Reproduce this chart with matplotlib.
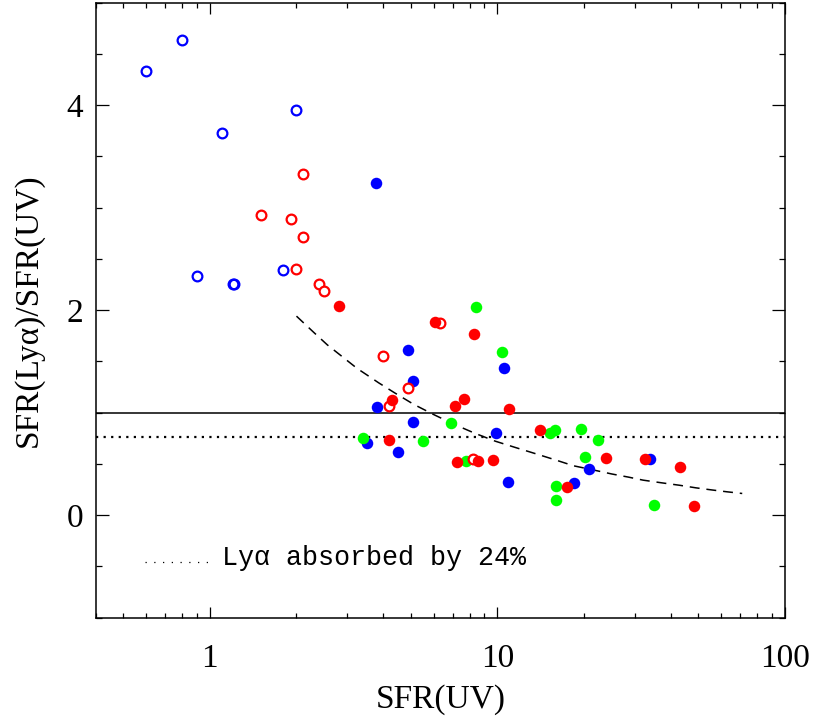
import matplotlib
matplotlib.use("Agg")
import matplotlib.pyplot as plt
from matplotlib.ticker import LogLocator, MultipleLocator, FixedLocator, FixedFormatter, NullFormatter

# ---------------- data ----------------
blue_open_x = [0.60, 0.80, 2.00, 1.10, 0.90, 1.20, 1.21, 1.80]
blue_open_y = [4.33, 4.63, 3.95, 3.73, 2.33, 2.25, 2.255, 2.39]

blue_fill_x = [3.79, 4.90, 10.5, 5.10, 3.80, 5.10, 9.90, 3.51, 4.50, 10.87, 20.8, 33.9, 18.4]
blue_fill_y = [3.24, 1.61, 1.43, 1.31, 1.05, 0.91, 0.80, 0.70, 0.61, 0.32, 0.45, 0.55, 0.31]

green_x = [8.39, 10.38, 6.91, 15.24, 15.9, 19.5, 22.3, 3.40, 5.49, 7.80, 20.1, 16.0, 16.0, 34.9]
green_y = [2.03, 1.59, 0.90, 0.80, 0.83, 0.84, 0.73, 0.75, 0.72, 0.53, 0.57, 0.28, 0.15, 0.10]

red_open_x = [2.10, 1.50, 1.91, 2.10, 2.00, 2.40, 2.50, 6.32, 4.00, 4.89, 4.18, 8.25]
red_open_y = [3.33, 2.93, 2.89, 2.71, 2.40, 2.25, 2.19, 1.87, 1.55, 1.24, 1.06, 0.55]

red_fill_x = [2.81, 6.08, 8.28, 4.31, 7.10, 7.68, 10.98, 14.07, 4.20, 7.21, 8.59, 9.68,
              23.8, 32.6, 43.1, 17.5, 48.2]
red_fill_y = [2.04, 1.88, 1.77, 1.12, 1.06, 1.13, 1.03, 0.83, 0.73, 0.52, 0.53, 0.54,
              0.56, 0.55, 0.47, 0.27, 0.09]

curve_x = [2.0, 2.3, 2.56, 2.9, 3.25, 3.5, 3.86, 4.4, 5.11, 6.0, 7.0, 8.3, 9.83, 11.5,
           13.5, 15.8, 18.4, 21.5, 25.0, 28.5, 32.1, 37.0, 43.0, 49.0, 55.8, 63.0, 71.0]
curve_y = [1.94, 1.78, 1.66, 1.54, 1.43, 1.37, 1.29, 1.19, 1.08, 0.98, 0.89, 0.80, 0.72, 0.66,
           0.60, 0.54, 0.48, 0.44, 0.40, 0.37, 0.34, 0.315, 0.29, 0.265, 0.244, 0.226, 0.21]

unity_level = 1.0
absorbed_level = 0.76

x_major = [1, 10, 100]
x_labels = ["1", "10", "100"]
y_major = [0, 2, 4]
y_labels = ["0", "2", "4"]

legend_text = "Ly\u03b1 absorbed by 24%"
xlabel = "SFR(UV)"
ylabel = "SFR(Ly\u03b1)/SFR(UV)"

# ---------------- figure ----------------
SERIF = ["Liberation Serif", "DejaVu Serif"]
MONO = ["Liberation Mono", "DejaVu Sans Mono"]

fig = plt.figure(figsize=(8.16, 7.22), dpi=100)
ax = fig.add_axes([95.5 / 816, 1 - 617.5 / 722, (785 - 95.5) / 816, 615 / 722])

ax.set_xscale("log")
ax.set_xlim(0.4, 100)
ax.set_ylim(-1, 5)

# reference lines
ax.axhline(unity_level, color="black", lw=1.1, zorder=1)
ax.axhline(absorbed_level, color="black", lw=1.6, linestyle=(0, (1, 2.4)),
           dash_capstyle="butt", zorder=1)

# dashed curve
ax.plot(curve_x, curve_y, color="black", lw=1.1, linestyle=(0, (6.5, 4.5)), zorder=1)

ms_f = 8.3
ms_o = 7.0
mew_o = 1.6
ax.plot(blue_open_x, blue_open_y, "o", ls="none", mfc="none", mec="#0000ff", ms=ms_o, mew=mew_o, zorder=2)
ax.plot(blue_fill_x, blue_fill_y, "o", ls="none", mfc="#0000ff", mec="none", ms=ms_f, zorder=3)
ax.plot(green_x, green_y, "o", ls="none", mfc="#00ff00", mec="none", ms=ms_f, zorder=4)
ax.plot(red_open_x, red_open_y, "o", ls="none", mfc="white", mec="#ff0000", ms=ms_o, mew=mew_o, zorder=5)
ax.plot(red_fill_x, red_fill_y, "o", ls="none", mfc="#ff0000", mec="none", ms=ms_f, zorder=6)

# ticks
ax.xaxis.set_major_locator(FixedLocator(x_major))
ax.xaxis.set_major_formatter(FixedFormatter(x_labels))
ax.xaxis.set_minor_locator(LogLocator(base=10, subs=range(2, 10), numticks=20))
ax.xaxis.set_minor_formatter(NullFormatter())
ax.yaxis.set_major_locator(FixedLocator(y_major))
ax.yaxis.set_major_formatter(FixedFormatter(y_labels))
ax.yaxis.set_minor_locator(MultipleLocator(0.5))

ax.tick_params(axis="both", which="both", direction="in", top=True, right=True, width=0.9, color="black")
ax.tick_params(axis="x", which="major", length=8, pad=19)
ax.tick_params(axis="x", which="minor", length=3.8)
ax.tick_params(axis="y", which="major", length=9.5, pad=9)
ax.tick_params(axis="y", which="minor", length=4.2)
for lab in ax.get_xticklabels() + ax.get_yticklabels():
    lab.set_family(SERIF)
    lab.set_fontsize(24)

for sp in ax.spines.values():
    sp.set_linewidth(1.1)

ax.set_xlabel(xlabel, family=SERIF, fontsize=24)
ax.set_ylabel(ylabel, family=SERIF, fontsize=24)
ax.xaxis.set_label_coords(0.5, -0.108)
ax.xaxis.label.set_va("top")
ax.yaxis.set_label_coords(-0.075, 0.5)

# key for dotted line
ax.plot([0.0718, 0.163], [0.0902, 0.0902], transform=ax.transAxes, color="black",
        lw=0.9, linestyle=(0, (1, 6)), dash_capstyle="butt")
ax.text(0.1835, 0.0854, legend_text, transform=ax.transAxes, family=MONO,
        fontsize=19.3, ha="left", va="baseline")

fig.savefig("out.png", dpi=100)
